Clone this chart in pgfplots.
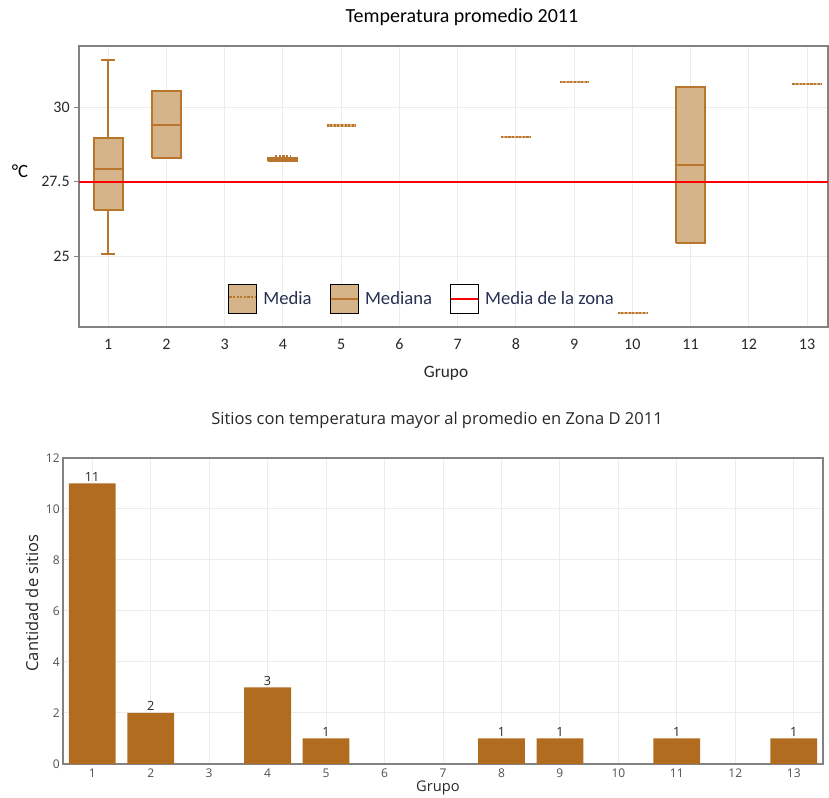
\documentclass[border=0pt]{standalone}
\usepackage{pgfplots}
\pgfplotsset{compat=1.18}
\usepackage{fontspec}
\setmainfont{Carlito}
\newfontfamily\osans{Open Sans}

\definecolor{boxfill}{RGB}{214,180,138}
\definecolor{boxline}{RGB}{186,117,44}
\definecolor{boxlinelt}{RGB}{218,176,128}
\definecolor{barcol}{RGB}{178,108,32}
\definecolor{gridc}{RGB}{236,236,236}
\definecolor{framec}{RGB}{130,130,130}
\definecolor{tickc}{RGB}{40,40,40}
\definecolor{gray4}{RGB}{80,80,80}
\definecolor{dark}{RGB}{40,40,40}
\definecolor{legtext}{RGB}{38,48,82}

\pgfplotsset{
  boxbody/.style={draw=boxline, fill=boxfill, line width=1.5pt, forget plot},
  boxseg/.style={boxline, line width=1.5pt, forget plot},
  meanseg/.style={boxline, line width=1.6pt, dash pattern=on 1.6pt off 1.1pt, forget plot},
  flatseg/.style={boxlinelt, line width=1.6pt, forget plot},
}

\begin{document}
\begin{tikzpicture}
\useasboundingbox (0,0) rectangle (621.75pt,598.5pt);

% ---------- Top chart ----------
\begin{axis}[
  at={(59.25pt,353.25pt)}, anchor=south west,
  scale only axis, width=561.75pt, height=210.75pt,
  xmin=0.5, xmax=13.36, ymin=22.62, ymax=32.05,
  xtick={1,...,13}, ytick={25,27.5,30},
  /pgf/number format/assume math mode=true,
  tick label style={font=\fontsize{12}{14}\selectfont, text=tickc},
  grid=major, major grid style={gridc, line width=0.75pt},
  axis line style={framec, line width=1.3pt},
  tick pos=left, tick align=outside, major tick length=3.5pt,
  xtick style={draw=none}, ytick style={framec, line width=0.8pt},
  xticklabel style={yshift=-2pt},
  legend style={at={(axis description cs:0.199,0.045)}, anchor=south west,
    draw=none, fill=none, legend columns=3, inner sep=0pt,
    font=\fontsize{14}{16}\selectfont, text=legtext,
    /tikz/every even column/.append style={column sep=9pt},
    nodes={inner sep=4.5pt}},
  legend cell align=left,
]
% Group 1: whiskers, box, median, mean
\addplot[boxseg] coordinates {(1,25.07) (1,26.53)};
\addplot[boxseg] coordinates {(1,28.96) (1,31.58)};
\addplot[boxseg] coordinates {(0.88,25.07) (1.12,25.07)};
\addplot[boxseg] coordinates {(0.88,31.58) (1.12,31.58)};
\addplot[boxbody] coordinates {(0.75,26.53) (1.25,26.53) (1.25,28.96) (0.75,28.96) (0.75,26.53)};
\addplot[boxseg] coordinates {(0.75,27.92) (1.25,27.92)};
\addplot[meanseg] coordinates {(0.75,27.92) (1.25,27.92)};
% Group 2
\addplot[boxbody] coordinates {(1.75,28.30) (2.25,28.30) (2.25,30.54) (1.75,30.54) (1.75,28.30)};
\addplot[boxseg] coordinates {(1.75,29.40) (2.25,29.40)};
\addplot[meanseg] coordinates {(1.75,29.40) (2.25,29.40)};
% Group 4
\addplot[boxbody] coordinates {(3.75,28.20) (4.25,28.20) (4.25,28.30) (3.75,28.30) (3.75,28.20)};
\addplot[boxseg] coordinates {(3.75,28.25) (4.25,28.25)};
\addplot[meanseg] coordinates {(3.87,28.34) (4.13,28.34)};
% Groups with a single value: 5, 8, 9, 10, 13
\addplot[flatseg] coordinates {(4.75,29.38) (5.25,29.38)};
\addplot[meanseg] coordinates {(4.75,29.38) (5.25,29.38)};
\addplot[flatseg] coordinates {(7.75,28.99) (8.25,28.99)};
\addplot[meanseg] coordinates {(7.75,28.99) (8.25,28.99)};
\addplot[flatseg] coordinates {(8.75,30.84) (9.25,30.84)};
\addplot[meanseg] coordinates {(8.75,30.84) (9.25,30.84)};
\addplot[flatseg] coordinates {(9.75,23.09) (10.25,23.09)};
\addplot[meanseg] coordinates {(9.75,23.09) (10.25,23.09)};
\addplot[flatseg] coordinates {(12.75,30.77) (13.25,30.77)};
\addplot[meanseg] coordinates {(12.75,30.77) (13.25,30.77)};
% Group 11
\addplot[boxbody] coordinates {(10.75,25.44) (11.25,25.44) (11.25,30.67) (10.75,30.67) (10.75,25.44)};
\addplot[boxseg] coordinates {(10.75,28.07) (11.25,28.07)};

\addlegendimage{legend image code/.code={
  \draw[black, line width=0.8pt, fill=boxfill] (0pt,-10.9pt) rectangle (21pt,10.9pt);
  \draw[boxline, line width=1.5pt, dash pattern=on 1.6pt off 1.1pt] (0.4pt,1.5pt) -- (20.6pt,1.5pt);}}
\addlegendentry{Media}
\addlegendimage{legend image code/.code={
  \draw[black, line width=0.8pt, fill=boxfill] (0pt,-10.9pt) rectangle (21pt,10.9pt);
  \draw[boxline, line width=1.8pt] (0.4pt,0pt) -- (20.6pt,0pt);}}
\addlegendentry{Mediana}
\addplot[red, line width=1.5pt, legend image code/.code={
  \draw[black, line width=0.8pt, fill=white] (0pt,-10.9pt) rectangle (21pt,10.9pt);
  \draw[red, line width=1.4pt] (0.4pt,0pt) -- (20.6pt,0pt);}]
  coordinates {(0.5,27.5) (13.36,27.5)};
\addlegendentry{Media de la zona}
\end{axis}

\node[font=\fontsize{15}{18}\selectfont, text=black] at (346.5pt,585.75pt) {Temperatura promedio 2011};
\node[font=\fontsize{14}{16}\selectfont, text=black] at (15pt,470.25pt) {°C};
\node[font=\fontsize{13}{16}\selectfont, text=dark] at (334.5pt,318.75pt) {Grupo};

% ---------- Bottom chart ----------
\begin{axis}[
  at={(47.25pt,25.5pt)}, anchor=south west,
  scale only axis, width=570pt, height=229.5pt,
  xmin=0.5, xmax=13.5, ymin=0, ymax=12,
  xtick={1,...,13}, ytick={0,2,...,12},
  ybar, bar width=0.8,
  /pgf/number format/assume math mode=true,
  tick label style={font=\osans\fontsize{9}{11}\selectfont, text=gray4},
  grid=major, major grid style={gridc, line width=0.75pt},
  axis line style={framec, line width=1.2pt},
  major tick length=0pt,
  yticklabel style={xshift=1pt},
  nodes near coords,
  nodes near coords style={font=\osans\fontsize{9.5}{11}\selectfont, text=dark, inner sep=1.5pt},
]
\addplot[fill=barcol, draw=none] coordinates {
  (1,11) (2,2) (4,3) (5,1) (8,1) (9,1) (11,1) (13,1)};
\end{axis}

\node[font=\osans\fontsize{12.4}{15}\selectfont, text=dark] at (327.75pt,283.5pt) {Sitios con temperatura mayor al promedio en Zona D 2011};
\node[font=\osans\fontsize{12.4}{15}\selectfont, text=dark, rotate=90] at (24pt,146.25pt) {Cantidad de sitios};
\node[font=\osans\fontsize{11}{13}\selectfont, text=dark] at (328.5pt,7.5pt) {Grupo};
\end{tikzpicture}
\end{document}
